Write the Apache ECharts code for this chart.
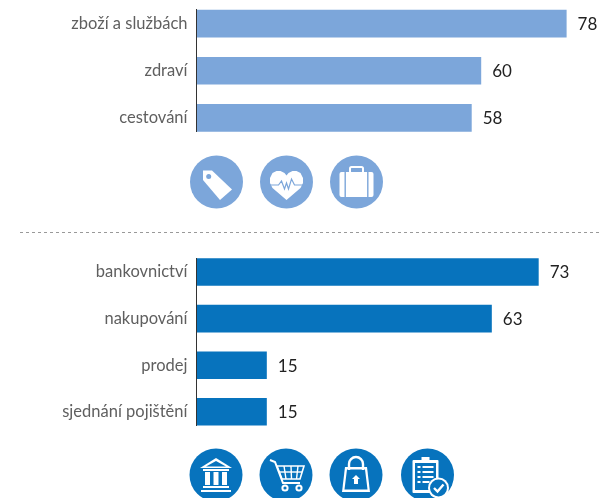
<!DOCTYPE html>
<html>
<head>
<meta charset="utf-8">
<style>
    html, body { margin: 0; padding: 0; background: #fff; overflow: hidden; }
    #chart { width: 602px; height: 498px; }
</style>
</head>
<body>
<div id="chart"></div>
<script src="https://cdn.jsdelivr.net/npm/echarts@6/dist/echarts.min.js"></script>
<script>
const topCategories = ['zboží a službách', 'zdraví', 'cestování'];
const topValues = [78, 60, 58];
const bottomCategories = ['bankovnictví', 'nakupování', 'prodej', 'sjednání pojištění'];
const bottomValues = [73, 63, 15, 15];

const lightBlue = '#7ca6da';
const darkBlue = '#0773bd';
const font = 'Lato';

const chart = echarts.init(document.getElementById('chart'), null, { renderer: 'canvas' });

function makeAxes(gridIndex, categories) {
    return {
        x: { gridIndex, type: 'value', min: 0, max: 80, show: false },
        y: {
            gridIndex, type: 'category', inverse: true, data: categories,
            axisLine: { show: false }, axisTick: { show: false },
            axisLabel: { color: '#5f5f5f', fontSize: 16.5, fontFamily: font, margin: 9, padding: [1, 0, 0, 0] }
        }
    };
}

function makeBars(index, values, color) {
    return {
        type: 'bar', xAxisIndex: index, yAxisIndex: index, data: values,
        barWidth: 27.6, silent: true,
        itemStyle: { color },
        label: { show: true, position: 'right', distance: 11, offset: [0, 1], color: '#222', fontSize: 17, fontFamily: font }
    };
}

// 图标：圆形底 + 白色图形，坐标相对圆心
function icon(cx, cy, color, parts) {
    return {
        type: 'group', x: cx, y: cy, silent: true,
        children: [{ type: 'circle', shape: { r: 26.5 }, style: { fill: color } }].concat(parts)
    };
}
function shape(type, s, fill, extra) {
    return { type, shape: s, style: Object.assign({ fill }, extra || {}) };
}
function poly(points, fill) {
    return shape('polygon', { points }, fill);
}
function stroke(points, color, w) {
    return { type: 'polyline', shape: { points }, style: { fill: 'none', stroke: color, lineWidth: w } };
}
function rect(x, y, width, height, fill, r) {
    return shape('rect', { x, y, width, height, r: r || 0 }, fill);
}

const tagIcon = icon(216.5, 182, lightBlue, [
    poly([[-13.5, -11.5], [-4.5, -11.5], [15.5, 7.5], [3.5, 18], [-13.5, -2]], '#fff'),
    shape('circle', { cx: -7.8, cy: -5.5, r: 2.5 }, lightBlue)
]);
const heartIcon = icon(286.5, 182, lightBlue, [
    poly([[0, 18], [-14, 6], [-16.5, 1], [-16.5, -4], [-14, -9], [-10, -11], [-6, -11], [-2, -9], [0, -6.5],
        [2, -9], [6, -11], [10, -11], [14, -9], [16.5, -4], [16.5, 1], [14, 6]], '#fff'),
    stroke([[-17, 3], [-8, 3], [-5, -1], [-2, 7], [0, 1], [2, 7], [5, -3], [8, 3], [17, 3]], lightBlue, 1.2)
]);
const caseIcon = icon(356.5, 182, lightBlue, [
    rect(-17, -10, 34, 25, '#fff', 2),
    rect(-12, -10, 1.4, 25, lightBlue),
    rect(10.6, -10, 1.4, 25, lightBlue),
    { type: 'rect', shape: { x: -6.5, y: -15, width: 13, height: 6, r: 1.5 }, style: { fill: 'none', stroke: '#fff', lineWidth: 2 } }
]);

const bankIcon = icon(216, 475, darkBlue, [
    poly([[0, -17], [16, -7], [-16, -7]], '#fff'),
    poly([[0, -14], [10, -8.5], [-10, -8.5]], darkBlue),
    rect(-13, -6, 26, 2, '#fff'),
    rect(-11, -3, 5, 13, '#fff'), rect(-2.5, -3, 5, 13, '#fff'), rect(6, -3, 5, 13, '#fff'),
    rect(-13, 11, 26, 2, '#fff'),
    rect(-15, 15, 30, 2, '#fff')
]);
const cartIcon = icon(286, 475, darkBlue, [
    stroke([[-16, -15], [-11, -13], [-3, 8], [14, 8]], '#fff', 2),
    stroke([[-9, -9], [18, -9], [14, 4], [-4, 4], [-9, -9]], '#fff', 1.6),
    stroke([[-2, -9], [0, 4]], '#fff', 1.4), stroke([[5, -9], [5.5, 4]], '#fff', 1.4), stroke([[12, -9], [10.5, 4]], '#fff', 1.4),
    stroke([[-7, -3], [16, -3]], '#fff', 1.4),
    shape('circle', { cx: -1, cy: 13, r: 2.6 }, darkBlue, { stroke: '#fff', lineWidth: 2 }),
    shape('circle', { cx: 13, cy: 13, r: 2.6 }, darkBlue, { stroke: '#fff', lineWidth: 2 })
]);
const bagIcon = icon(356, 475, darkBlue, [
    poly([[-11, -8], [11, -8], [14, 17], [-14, 17]], '#fff'),
    poly([[-9, -5.5], [9, -5.5], [11.5, 14.5], [-11.5, 14.5]], darkBlue),
    { type: 'arc', shape: { cx: 0, cy: -11, r: 7, startAngle: Math.PI, endAngle: 0, clockwise: true }, style: { fill: 'none', stroke: '#fff', lineWidth: 2.4 } },
    rect(-8.2, -11, 2.4, 6, '#fff'), rect(5.8, -11, 2.4, 6, '#fff'),
    poly([[0, 0], [4, 4], [2, 4], [2, 9], [-2, 9], [-2, 4], [-4, 4]], '#fff')
]);
const listIcon = icon(427.5, 475, darkBlue, [
    rect(-15, -15, 26, 33, '#fff', 1),
    rect(-12.5, -12, 21, 27, darkBlue),
    rect(-6, -18, 8, 4, '#fff'),
    rect(-10, -9, 3, 2, '#fff'), rect(-5, -9, 11, 2, '#fff'),
    rect(-10, -4, 3, 2, '#fff'), rect(-5, -4, 11, 2, '#fff'),
    rect(-10, 1, 3, 2, '#fff'), rect(-5, 1, 11, 2, '#fff'),
    rect(-10, 6, 3, 2, '#fff'), rect(-5, 6, 7, 2, '#fff'),
    shape('circle', { cx: 11, cy: 13, r: 10.5 }, '#fff'),
    shape('circle', { cx: 11, cy: 13, r: 8.5 }, darkBlue),
    stroke([[6.5, 13], [10, 16.5], [16, 9.5]], '#fff', 2.4)
]);

const a = makeAxes(0, topCategories);
const b = makeAxes(1, bottomCategories);

const option = {
    animation: false,
    grid: [
        { left: 196.5, top: -0.7, width: 379.6, height: 142.2 },
        { left: 196.5, top: 248.7, width: 375, height: 186.4 }
    ],
    xAxis: [a.x, b.x],
    yAxis: [a.y, b.y],
    series: [makeBars(0, topValues, lightBlue), makeBars(1, bottomValues, darkBlue)],
    graphic: [
        { type: 'line', z: 10, shape: { x1: 196.5, y1: 9, x2: 196.5, y2: 132 }, style: { stroke: '#333', lineWidth: 1 } },
        { type: 'line', z: 10, shape: { x1: 196.5, y1: 258, x2: 196.5, y2: 426 }, style: { stroke: '#333', lineWidth: 1 } },
        { type: 'line', shape: { x1: 20, y1: 232.5, x2: 602, y2: 232.5 }, style: { stroke: '#999', lineWidth: 1, lineDash: [3, 3] } },
        tagIcon, heartIcon, caseIcon, bankIcon, cartIcon, bagIcon, listIcon
    ]
};

chart.setOption(option);
</script>
</body>
</html>
